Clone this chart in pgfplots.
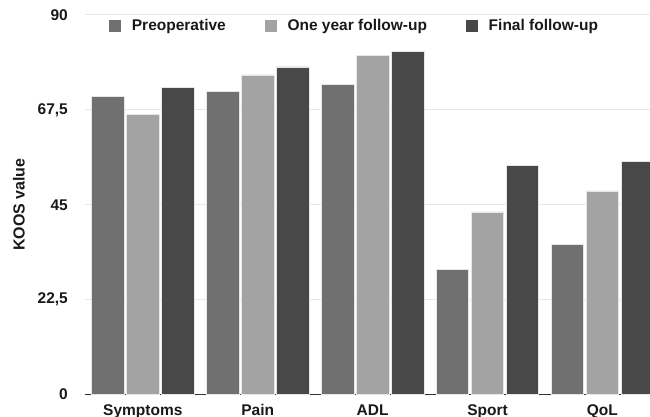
\documentclass[border=0pt]{standalone}
\usepackage{pgfplots}
\pgfplotsset{compat=1.18}
\usepackage{fontspec}
\setmainfont{Liberation Sans}

\definecolor{preop}{RGB}{112,112,112}
\definecolor{oneyr}{RGB}{163,163,163}
\definecolor{final}{RGB}{72,72,72}
\definecolor{gridc}{RGB}{230,230,230}

\newcommand{\lab}{\fontsize{15.5bp}{18bp}\selectfont\bfseries}

\begin{document}
\begin{tikzpicture}
\begin{axis}[
  name=ax,
  scale only axis,
  width=565bp, height=379.5bp,
  xmin=-0.503, xmax=4.414,
  ymin=0, ymax=90,
  ybar=2.5bp, bar width=32.5bp,
  axis lines*=left,
  x axis line style={-, draw=black!80, line width=1.5bp},
  y axis line style={draw=none},
  major tick length=0pt,
  xtick={0,1,2,3,4},
  xticklabels={Symptoms,Pain,ADL,Sport,QoL},
  ytick={0,22.5,45,67.5,90},
  yticklabels={0,{22,5},45,{67,5},90},
  ymajorgrids,
  grid style={draw=gridc, line width=1bp},
  tick label style={font=\lab, text=black!90, inner sep=0pt},
  xticklabel style={anchor=base, yshift=-21.5bp},
  yticklabel style={anchor=east, xshift=-17bp},
  ylabel={KOOS value},
  every axis y label/.style={at={(axis description cs:-0.1168,0.5)}, rotate=90, anchor=center, text=black!90, font=\fontsize{16bp}{19bp}\selectfont\bfseries},
  legend columns=3,
  legend style={at={(rel axis cs:0,1)}, anchor=west, xshift=24bp, yshift=-11bp,
    draw=none, fill=none, inner sep=0pt, font=\lab, text=black!90,
    nodes={inner sep=0pt},
    /tikz/every odd column/.append style={column sep=10.7bp},
    /tikz/every even column/.append style={column sep=39bp}},
  legend image code/.code={\fill[#1, draw=none] (0bp,-6bp) rectangle (12bp,6bp);},
]
% Preoperative
\addplot[fill=preop, draw=gridc, line width=0.6bp] coordinates {(0,70.7) (1,71.9) (2,73.6) (3,29.7) (4,35.6)};
% One year follow-up
\addplot[fill=oneyr, draw=gridc, line width=0.6bp] coordinates {(0,66.5) (1,75.8) (2,80.5) (3,43.3) (4,48.3)};
% Final follow-up
\addplot[fill=final, draw=gridc, line width=0.6bp] coordinates {(0,72.9) (1,77.7) (2,81.3) (3,54.3) (4,55.3)};
\legend{Preoperative, One year follow-up, Final follow-up}
\end{axis}
\pgfresetboundingbox
\path[use as bounding box] ([shift={(-85bp,-22.5bp)}]ax.south west) rectangle ([shift={(0bp,15bp)}]ax.north east);
\end{tikzpicture}
\end{document}
